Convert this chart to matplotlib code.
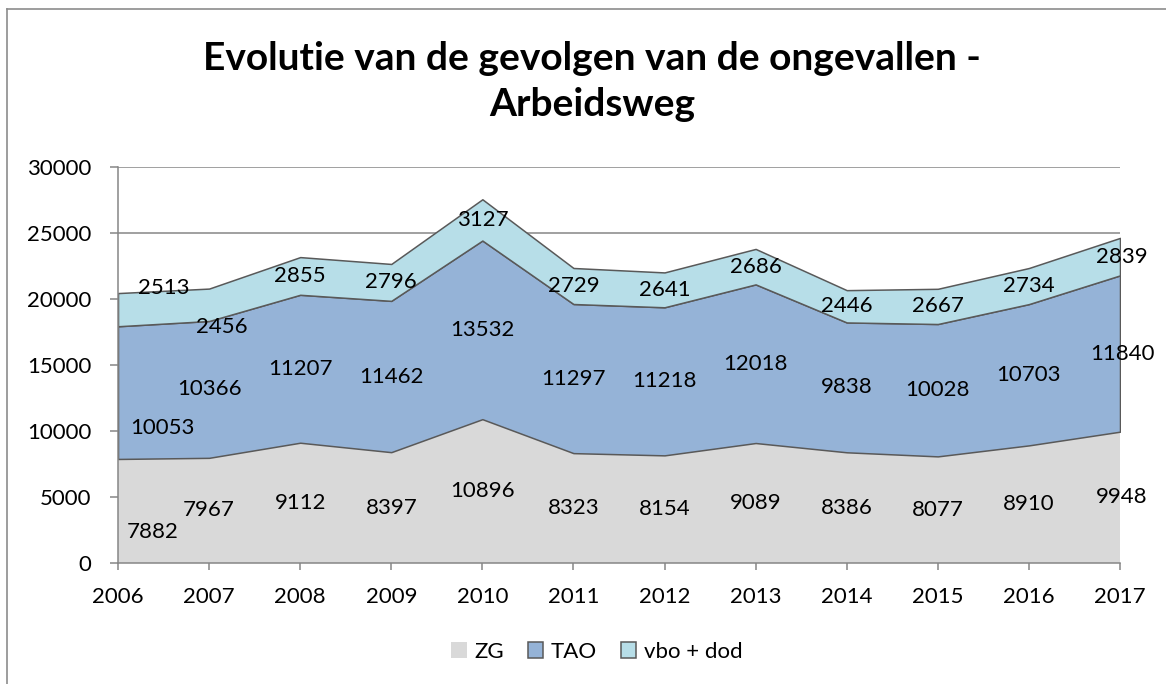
import matplotlib
matplotlib.use("Agg")
import matplotlib.pyplot as plt
from matplotlib.patches import Patch
from matplotlib.lines import Line2D

# data
years = [2006, 2007, 2008, 2009, 2010, 2011, 2012, 2013, 2014, 2015, 2016, 2017]
zg = [7882, 7967, 9112, 8397, 10896, 8323, 8154, 9089, 8386, 8077, 8910, 9948]
tao = [10053, 10366, 11207, 11462, 13532, 11297, 11218, 12018, 9838, 10028, 10703, 11840]
vbo = [2513, 2456, 2855, 2796, 3127, 2729, 2641, 2686, 2446, 2667, 2734, 2839]
series_names = ["ZG", "TAO", "vbo + dod"]
yticks = [0, 5000, 10000, 15000, 20000, 25000, 30000]

# colours
col_zg = "#D9D9D9"
col_tao = "#95B3D7"
col_vbo = "#B7DEE8"
edge = "#595959"
grid_col = "#868686"

# label nudges (pixels) where Excel put the label off the band middle
label_shift = {(0, 0): (35, -21), (1, 0): (44, -35), (2, 0): (46, 22), (2, 1): (13, -22)}

plt.rcParams['font.family'] = ['Lato', 'DejaVu Sans']
fs = 16

fig = plt.figure(figsize=(11.66, 6.84), dpi=100)
ax = fig.add_axes([118/1166, 1 - 563/684, (1120 - 118)/1166, (563 - 167)/684])

# stacked bands
lvl0 = [0]*len(years)
lvl1 = zg
lvl2 = [a + b for a, b in zip(zg, tao)]
lvl3 = [a + b for a, b in zip(lvl2, vbo)]

ax.fill_between(years, lvl0, lvl1, facecolor=col_zg, edgecolor='none', zorder=2)
ax.fill_between(years, lvl1, lvl2, facecolor=col_tao, edgecolor=edge, linewidth=1.1, zorder=3)
ax.fill_between(years, lvl2, lvl3, facecolor=col_vbo, edgecolor=edge, linewidth=1.1, zorder=3)

# data labels in the middle of each band
bands = [(lvl0, lvl1, zg), (lvl1, lvl2, tao), (lvl2, lvl3, vbo)]
for s, (lo, hi, vals) in enumerate(bands):
    for i, yr in enumerate(years):
        dx, dy = label_shift.get((s, i), (0, 0))
        if i == len(years) - 1:
            dx = 2
        ax.annotate(str(vals[i]), (yr, (lo[i] + hi[i]) / 2), xytext=(dx, dy),
                    textcoords='offset pixels', ha='center', va='center',
                    fontsize=fs, color='black', zorder=5, annotation_clip=False)

# axes styling
ax.set_xlim(years[0], years[-1])
ax.set_ylim(0, 30000)
ax.set_xticks(years)
ax.set_yticks(yticks)
ax.set_yticklabels([str(t) for t in yticks])
ax.yaxis.grid(True, color=grid_col, linewidth=1.1)
ax.set_axisbelow(True)
for side in ['top', 'right']:
    ax.spines[side].set_visible(False)
for side in ['left', 'bottom']:
    ax.spines[side].set_color(grid_col)
    ax.spines[side].set_linewidth(1.1)
    ax.spines[side].set_zorder(4)
ax.tick_params(axis='y', direction='out', length=6, width=1.1, color=grid_col, pad=13, labelsize=fs)
ax.tick_params(axis='x', direction='out', length=5, width=1.1, color=grid_col, pad=12, labelsize=fs)

# title
fig.text(592/1166, 1 - 58/684, "Evolutie van de gevolgen van de ongevallen -",
         ha='center', va='center', fontsize=28, fontweight='bold')
fig.text(592/1166, 1 - 104/684, "Arbeidsweg",
         ha='center', va='center', fontsize=28, fontweight='bold')

# legend
handles = [Patch(facecolor=col_zg, edgecolor='none'),
           Patch(facecolor=col_tao, edgecolor=edge, linewidth=1.1),
           Patch(facecolor=col_vbo, edgecolor=edge, linewidth=1.1)]
fig.legend(handles, series_names, loc='center', bbox_to_anchor=(597/1166, 1 - 652/684),
           ncol=3, frameon=False, fontsize=fs, handlelength=0.7, handleheight=0.7,
           handletextpad=0.35, columnspacing=1.05)

# chart border
fig.add_artist(Line2D([7/1166, 7/1166], [0, 1 - 9/684], color='#8C8C8C', linewidth=1.2))
fig.add_artist(Line2D([7/1166, 1], [1 - 9/684, 1 - 9/684], color='#8C8C8C', linewidth=1.2))

fig.savefig("out.png", dpi=100)
